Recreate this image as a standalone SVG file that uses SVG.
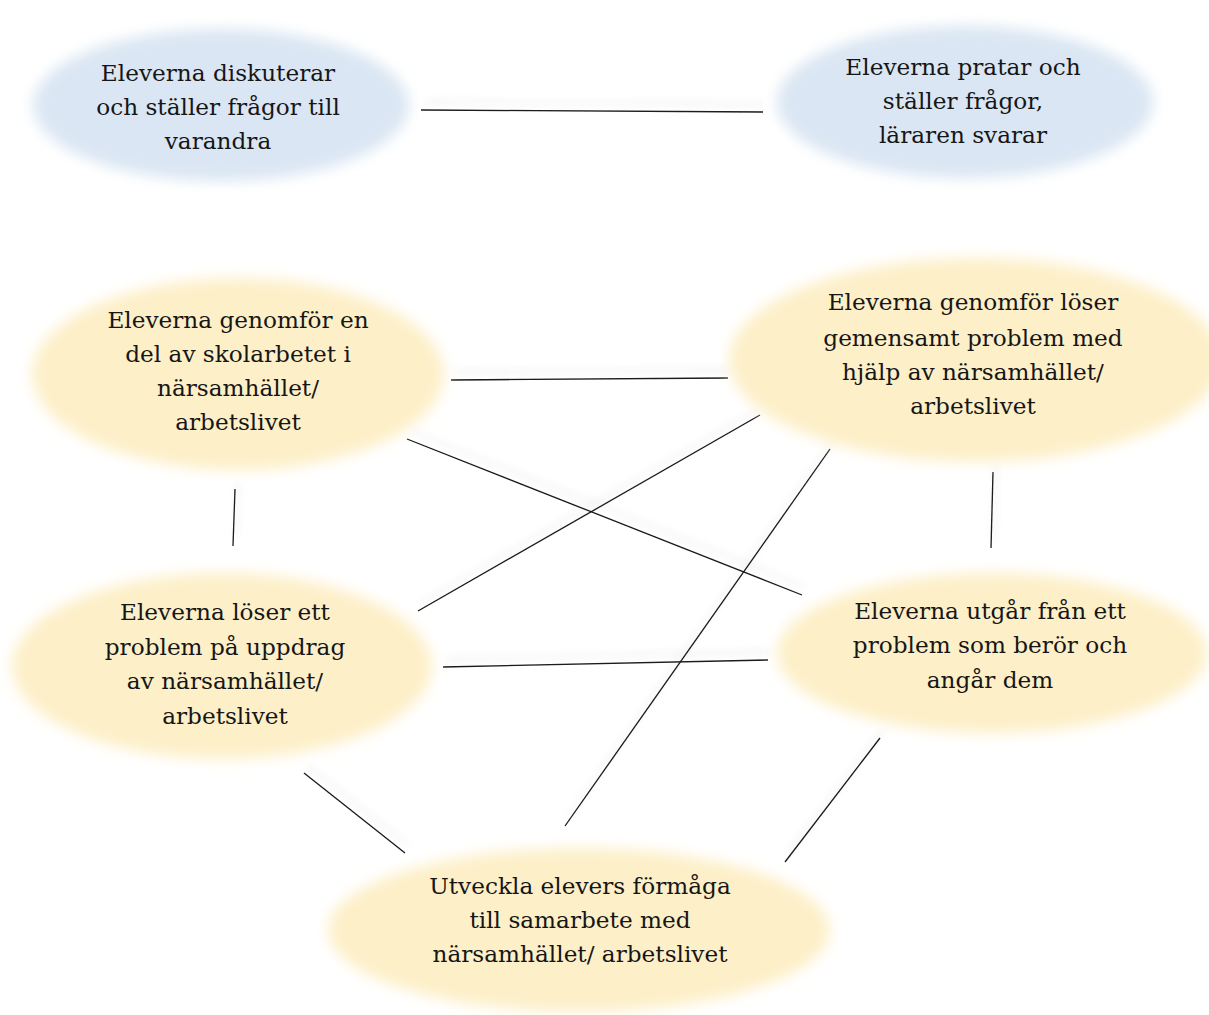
<svg xmlns="http://www.w3.org/2000/svg" width="1209" height="1015" viewBox="0 0 1209 1015">
<defs>
<filter id="soft" x="-20%" y="-20%" width="140%" height="140%"><feGaussianBlur stdDeviation="7"/></filter>
<filter id="shadow" x="-20%" y="-50%" width="140%" height="200%">
<feOffset in="SourceAlpha" dx="3" dy="-8" result="o"/>
<feGaussianBlur in="o" stdDeviation="4" result="b"/>
<feComponentTransfer in="b" result="s"><feFuncA type="linear" slope="0.16"/></feComponentTransfer>
<feMerge><feMergeNode in="s"/><feMergeNode in="SourceGraphic"/></feMerge>
</filter>
</defs>
<style>
.blue{fill:#dae6f3;filter:url(#soft)}
.yel{fill:#fdefc8;filter:url(#soft)}
text{font-family:"DejaVu Serif","Liberation Serif",serif;font-size:23.2px;fill:#161616;text-anchor:middle}
.c line{stroke:#1a1a1a;stroke-width:1.3;fill:none}
</style>
<rect width="1209" height="1015" fill="#ffffff"/>
<g id="connectors" class="c" filter="url(#shadow)">
<line x1="421" y1="110" x2="763" y2="112"/>
<line x1="451" y1="380" x2="728" y2="378"/>
<line x1="235" y1="489" x2="233" y2="546"/>
<line x1="993" y1="472" x2="991" y2="548"/>
<line x1="407" y1="439" x2="802" y2="595"/>
<line x1="418" y1="611" x2="760" y2="415"/>
<line x1="830" y1="449" x2="565" y2="826"/>
<line x1="443" y1="667" x2="768" y2="660"/>
<line x1="304" y1="773" x2="405" y2="853"/>
<line x1="880" y1="738" x2="785" y2="862"/>
</g>
<g id="node-diskuterar">
<ellipse class="blue" cx="221" cy="105" rx="188" ry="76"/>
<text x="218" y="81">Eleverna diskuterar</text>
<text x="218" y="115">och ställer frågor till</text>
<text x="218" y="149">varandra</text>
</g>
<g id="node-pratar">
<ellipse class="blue" cx="965" cy="102" rx="188" ry="76"/>
<text x="963" y="75">Eleverna pratar och</text>
<text x="963" y="109">ställer frågor,</text>
<text x="963" y="143">läraren svarar</text>
</g>
<g id="node-genomfor-del">
<ellipse class="yel" cx="238" cy="374" rx="206" ry="96"/>
<text x="238" y="328">Eleverna genomför en</text>
<text x="238" y="362">del av skolarbetet i</text>
<text x="238" y="396">närsamhället/</text>
<text x="238" y="430">arbetslivet</text>
</g>
<g id="node-genomfor-loser">
<ellipse class="yel" cx="975" cy="360" rx="246" ry="102"/>
<text x="973" y="310">Eleverna genomför löser</text>
<text x="973" y="346">gemensamt problem med</text>
<text x="973" y="380">hjälp av närsamhället/</text>
<text x="973" y="414">arbetslivet</text>
</g>
<g id="node-loser-uppdrag">
<ellipse class="yel" cx="222" cy="666" rx="210" ry="93"/>
<text x="225" y="620">Eleverna löser ett</text>
<text x="225" y="655">problem på uppdrag</text>
<text x="225" y="689">av närsamhället/</text>
<text x="225" y="724">arbetslivet</text>
</g>
<g id="node-utgar">
<ellipse class="yel" cx="992" cy="653" rx="215" ry="80"/>
<text x="990" y="619">Eleverna utgår från ett</text>
<text x="990" y="653">problem som berör och</text>
<text x="990" y="688">angår dem</text>
</g>
<g id="node-utveckla">
<ellipse class="yel" cx="579" cy="930" rx="251" ry="82"/>
<text x="580" y="894">Utveckla elevers förmåga</text>
<text x="580" y="928">till samarbete med</text>
<text x="580" y="962">närsamhället/ arbetslivet</text>
</g>
</svg>
